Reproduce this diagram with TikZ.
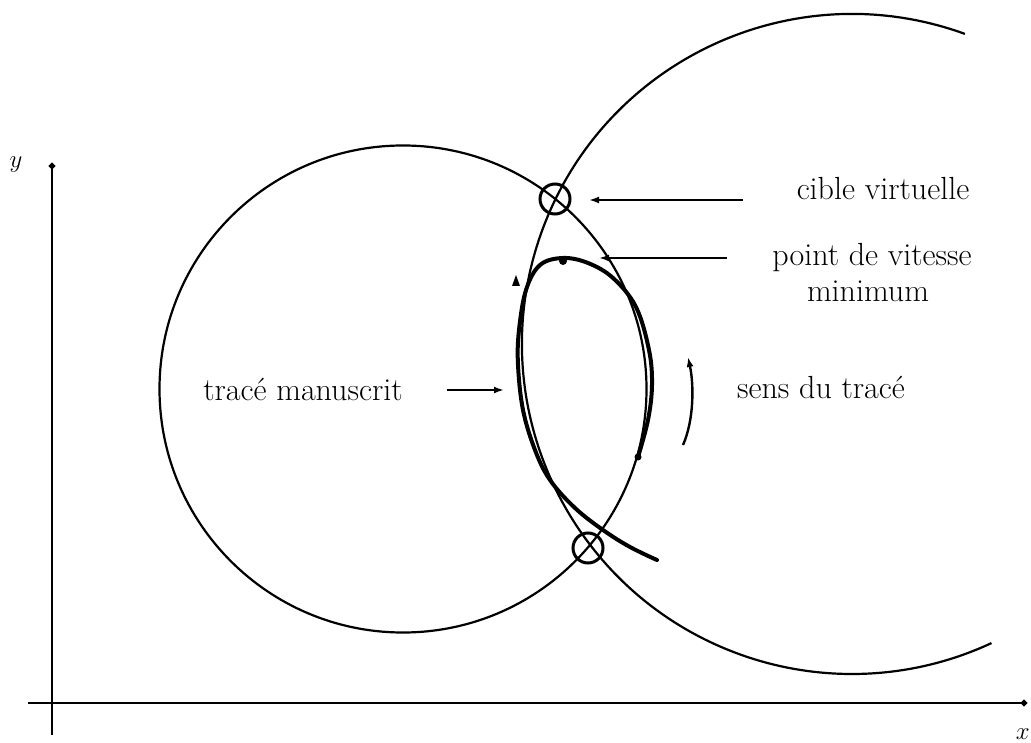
\documentclass[tikz,border=0pt]{standalone}
\usetikzlibrary{arrows.meta}
\begin{document}
\begin{tikzpicture}[x=1pt,y=-1pt,
  thinline/.style={line width=2.2pt},
  traceline/.style={line width=4pt, line cap=round, line join=round},
  axisline/.style={line width=2.6pt, -{Circle[length=6pt]}},
  marker/.style={line width=3pt},
  pointer/.style={line width=2.8pt, -{Latex[length=10pt,width=7pt]}},
  label/.style={anchor=base, font=\fontsize{32}{38}\selectfont, inner sep=0pt}]
\useasboundingbox (0,0) rectangle (1031,743);
% axes
\coordinate (yb) at (52,735);
\coordinate (yt) at (52,163);
\coordinate (xl) at (28,703);
\coordinate (xr) at (1027,703);
\draw[axisline] (yb) -- (yt);
\draw[axisline] (xl) -- (xr);
\node[label] (ylab) at (16,168) {$y$};
\node[label, anchor=base east] (xlab) at (1030,739) {$x$};
% circles
\draw[thinline] (403,389) circle[radius=243.5pt];
\draw[thinline] (852,344) ++(70:330pt) arc[start angle=70, end angle=295, radius=330pt];
% crossing markers
\draw[marker] (555,199) circle[radius=15pt];
\draw[marker] (588,548) circle[radius=15pt];
% handwritten trace
\draw[traceline] plot[smooth, tension=0.6] coordinates {
  (638,457) (648,420) (652,385) (649,350) (636,307) (613,278) (588,263) (563,258)
  (540,265) (526,290) (519,330) (518,365) (523,410) (535,450) (550,480)
  (575,508) (603,530) (630,547) (657,560)};
\fill (563,261) circle[radius=4pt];
\fill (638,457) circle[radius=3.5pt];
\fill (512,286) -- (520,286) -- (516,275) -- cycle;
% labels
\node[label] (cible) at (883,200) {cible virtuelle};
\node[label] (vit1) at (872,266) {point de vitesse};
\node[label] (vit2) at (868,302) {minimum};
\node[label] (sens) at (821,399) {sens du trac\'e};
\node[label] (manu) at (303,400) {trac\'e manuscrit};
% pointers
\coordinate (c1) at (743,200); \coordinate (c2) at (589,200);
\coordinate (v1) at (727,258); \coordinate (v2) at (599,258);
\coordinate (m1) at (447,390); \coordinate (m2) at (504,390);
\coordinate (s1) at (683,445); \coordinate (s2) at (688,357);
\draw[pointer] (c1) -- (c2);
\draw[pointer] (v1) -- (v2);
\draw[pointer] (m1) -- (m2);
\draw[line width=2.4pt, -{Latex[length=10pt,width=7pt]}] (s1) .. controls (694,420) and (694,385) .. (s2);
\end{tikzpicture}
\end{document}
